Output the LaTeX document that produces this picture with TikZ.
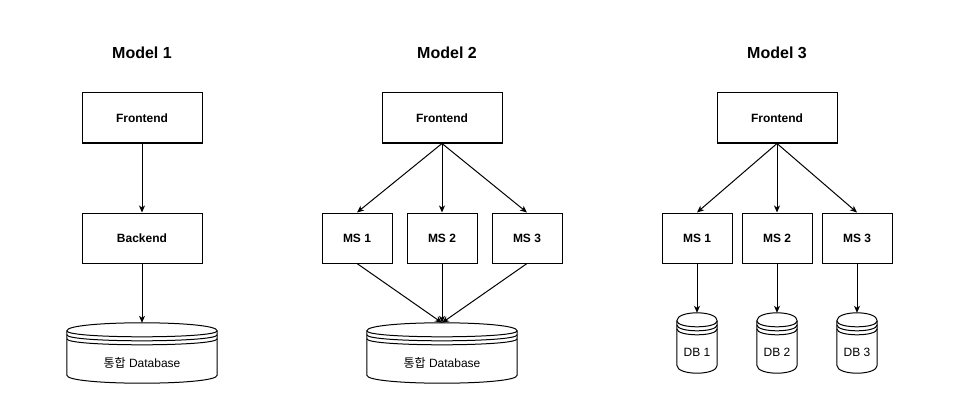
\documentclass[tikz,border=0pt]{standalone}
\usepackage{fontspec}
\setmainfont{Liberation Sans}
\newfontfamily\kr{Noto Sans CJK KR}
\usetikzlibrary{arrows.meta,calc}
\tikzset{
  box/.style={draw=black, line width=1pt, fill=white, minimum width=120pt, minimum height=50pt, inner sep=0pt,
    font=\fontsize{12pt}{14pt}\selectfont\bfseries},
  msbox/.style={box, minimum width=70pt},
  title/.style={anchor=base, inner sep=0pt, font=\fontsize{16pt}{19pt}\selectfont\bfseries},
  dbarea/.style={draw=none, inner sep=0pt, minimum width=#1, minimum height=60pt},
  dbtext/.style={anchor=base, inner sep=0pt, font=\fontsize{12pt}{14pt}\selectfont},
  conn/.style={line width=1pt, -{Stealth[length=7pt,width=6pt,inset=2pt]}},
  dbline/.style={line width=1pt, draw=black},
}
\newcommand\dstore[1]{%
  \draw[dbline, fill=white] let \p1=(#1.north west), \p2=(#1.south east) in
    ({\x1},{\y1-8pt}) .. controls ({\x1},{\y1+8pt/3}) and ({\x2},{\y1+8pt/3}) .. ({\x2},{\y1-8pt})
    -- ({\x2},{\y2+8pt}) .. controls ({\x2},{\y2-8pt/3}) and ({\x1},{\y2-8pt/3}) .. ({\x1},{\y2+8pt}) -- cycle;
  \draw[dbline] let \p1=(#1.north west), \p2=(#1.south east) in
    ({\x1},{\y1-8pt}) .. controls ({\x1},{\y1-16pt}) and ({\x2},{\y1-16pt}) .. ({\x2},{\y1-8pt})
    ({\x1},{\y1-12pt}) .. controls ({\x1},{\y1-20pt}) and ({\x2},{\y1-20pt}) .. ({\x2},{\y1-12pt})
    ({\x1},{\y1-16pt}) .. controls ({\x1},{\y1-24pt}) and ({\x2},{\y1-24pt}) .. ({\x2},{\y1-16pt});
}
\begin{document}
\begin{tikzpicture}[x=1pt,y=-1pt]
\useasboundingbox (0,0) rectangle (974,417);

% Model 1
\node[title] (t1) at (142,59) {Model 1};
\node[box] (fe1) at (142,118) {Frontend};
\node[box] (be1) at (142,238) {Backend};
\node[dbarea=150pt] (db1) at (142,353) {};
\dstore{db1}
\node[dbtext] (dbl1) at (142,367) {{\kr 통합} Database};
\draw[conn] (fe1.south) -- (be1.north);
\draw[conn] (be1.south) -- (db1.north);

% Model 2
\node[title] (t2) at (447,59) {Model 2};
\node[box] (fe2) at (442,118) {Frontend};
\node[msbox] (ms21) at (357,238) {MS 1};
\node[msbox] (ms22) at (442,238) {MS 2};
\node[msbox] (ms23) at (527,238) {MS 3};
\node[dbarea=150pt] (db2) at (442,353) {};
\dstore{db2}
\node[dbtext] (dbl2) at (442,367) {{\kr 통합} Database};
\draw[conn] (fe2.south) -- (ms21.north);
\draw[conn] (fe2.south) -- (ms22.north);
\draw[conn] (fe2.south) -- (ms23.north);
\draw[conn] (ms21.south) -- (db2.north);
\draw[conn] (ms22.south) -- (db2.north);
\draw[conn] (ms23.south) -- (db2.north);

% Model 3
\node[title] (t3) at (777,59) {Model 3};
\node[box] (fe3) at (777,118) {Frontend};
\node[msbox] (ms31) at (697,238) {MS 1};
\node[msbox] (ms32) at (777,238) {MS 2};
\node[msbox] (ms33) at (857,238) {MS 3};
\node[dbarea=40pt] (db31) at (697,343) {};
\node[dbarea=40pt] (db32) at (777,343) {};
\node[dbarea=40pt] (db33) at (857,343) {};
\dstore{db31}
\dstore{db32}
\dstore{db33}
\node[dbtext] (dbl31) at (697,356) {DB 1};
\node[dbtext] (dbl32) at (777,356) {DB 2};
\node[dbtext] (dbl33) at (857,356) {DB 3};
\draw[conn] (fe3.south) -- (ms31.north);
\draw[conn] (fe3.south) -- (ms32.north);
\draw[conn] (fe3.south) -- (ms33.north);
\draw[conn] (ms31.south) -- (db31.north);
\draw[conn] (ms32.south) -- (db32.north);
\draw[conn] (ms33.south) -- (db33.north);
\end{tikzpicture}
\end{document}
